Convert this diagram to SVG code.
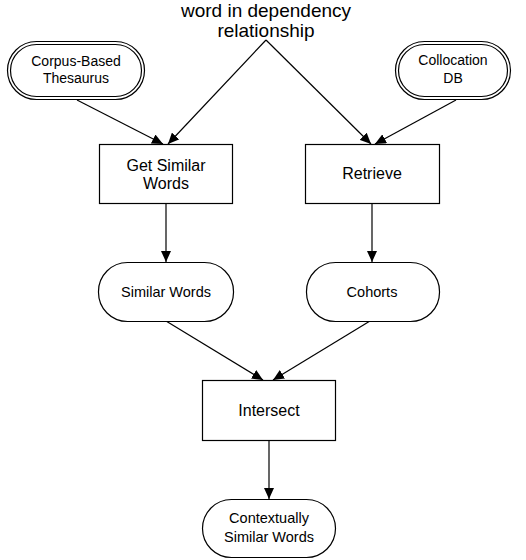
<svg xmlns="http://www.w3.org/2000/svg" width="526" height="560" viewBox="0 0 526 560">
<defs>
<marker id="ah" markerUnits="userSpaceOnUse" markerWidth="12" markerHeight="10" refX="11" refY="5" orient="auto">
<path d="M0,0 L11,5 L0,10 Z" fill="#000"/>
</marker>
<style>
.shape{fill:#fff;stroke:#000;stroke-width:1.2}
.t{font-family:"Liberation Sans",Arial,sans-serif;fill:#000;text-anchor:middle}
.big{font-size:19px}
.box{font-size:16px}
.st{font-size:14.5px}
.ds{font-size:14px}
.c{stroke:#000;stroke-width:1.2;fill:none;marker-end:url(#ah)}
</style>
</defs>
<rect width="526" height="560" fill="#fff"/>
<g id="connectors">
<line class="c" x1="266" y1="40" x2="168" y2="144"/>
<line class="c" x1="266" y1="40" x2="371" y2="144"/>
<line class="c" x1="77" y1="100" x2="163" y2="144"/>
<line class="c" x1="456" y1="100" x2="375" y2="144"/>
<line class="c" x1="166" y1="203" x2="166" y2="262"/>
<line class="c" x1="372" y1="203" x2="372" y2="262"/>
<line class="c" x1="166" y1="321" x2="263" y2="380"/>
<line class="c" x1="370" y1="321" x2="273" y2="380"/>
<line class="c" x1="269" y1="440" x2="269" y2="499"/>
</g>
<g id="input-label">
<text class="t big" x="266" y="17">word in dependency</text>
<text class="t big" x="266" y="37">relationship</text>
</g>
<g id="thesaurus">
<rect class="shape" x="7.5" y="41.5" width="137" height="58" rx="29"/>
<rect class="shape" x="10.5" y="44.5" width="131" height="52" rx="26"/>
<text class="t ds" x="76" y="66">Corpus-Based</text>
<text class="t ds" x="76" y="83">Thesaurus</text>
</g>
<g id="collocation">
<rect class="shape" x="395.5" y="41.5" width="115" height="58" rx="29"/>
<rect class="shape" x="398.5" y="44.5" width="109" height="52" rx="26"/>
<text class="t ds" x="453" y="65">Collocation</text>
<text class="t ds" x="453" y="83">DB</text>
</g>
<g id="get-similar">
<rect class="shape" x="99.5" y="144.5" width="133" height="59"/>
<text class="t box" x="166" y="171">Get Similar</text>
<text class="t box" x="166" y="189">Words</text>
</g>
<g id="retrieve">
<rect class="shape" x="305.5" y="144.5" width="134" height="59"/>
<text class="t box" x="372" y="179">Retrieve</text>
</g>
<g id="similar-words">
<rect class="shape" x="98.5" y="262.5" width="135" height="59" rx="29"/>
<text class="t st" x="166" y="297">Similar Words</text>
</g>
<g id="cohorts">
<rect class="shape" x="306.5" y="262.5" width="133" height="59" rx="29"/>
<text class="t st" x="372" y="297">Cohorts</text>
</g>
<g id="intersect">
<rect class="shape" x="202.5" y="380.5" width="133" height="60"/>
<text class="t box" x="269" y="416">Intersect</text>
</g>
<g id="contextually">
<rect class="shape" x="202.5" y="499.5" width="133" height="58" rx="29"/>
<text class="t st" x="269" y="523">Contextually</text>
<text class="t st" x="269" y="542">Similar Words</text>
</g>
</svg>
